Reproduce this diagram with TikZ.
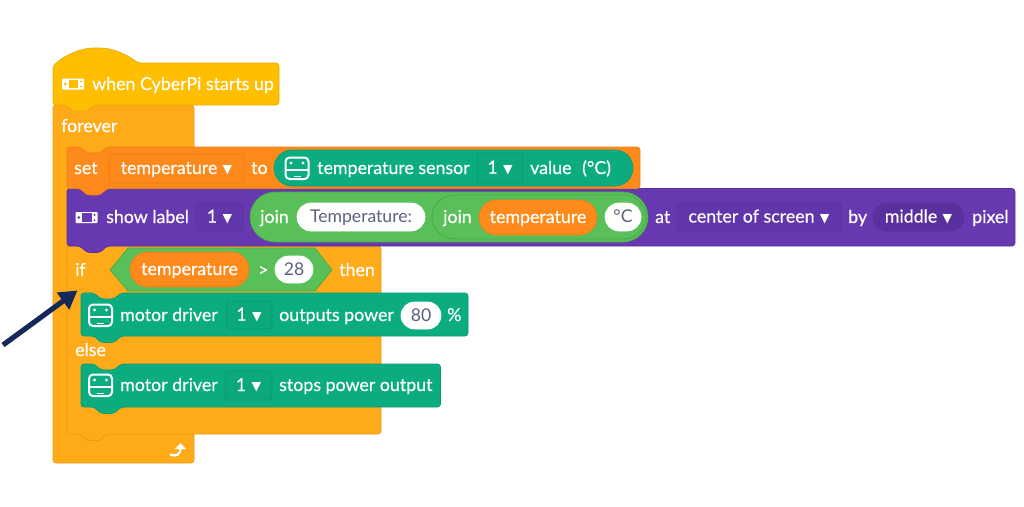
\documentclass[tikz,border=0pt]{standalone}
\usepackage{fontspec}
\setmainfont{Lato}
\newfontfamily\blockf[FakeBold=0.35]{Lato}
\newfontfamily\plainf{Lato}
\newfontfamily\symf{DejaVu Sans}
\usetikzlibrary{arrows.meta}
\definecolor{hatc}{HTML}{FFBF00}\definecolor{hate}{HTML}{E6AC00}
\definecolor{ctrl}{HTML}{FFAB19}\definecolor{ctrle}{HTML}{EB9A10}
\definecolor{var}{HTML}{FF8A1C}\definecolor{vare}{HTML}{EF7F17}\definecolor{vard}{HTML}{FD881B}
\definecolor{teal}{HTML}{0BAD80}\definecolor{teale}{HTML}{0A9A72}\definecolor{teald}{HTML}{0BA87C}
\definecolor{purp}{HTML}{6639B0}\definecolor{purpe}{HTML}{5A319F}\definecolor{purpd}{HTML}{6236AB}\definecolor{purpp}{HTML}{5A2F9E}
\definecolor{grn}{HTML}{59C059}\definecolor{grne}{HTML}{48A948}
\definecolor{wtxt}{HTML}{5C6080}\definecolor{navy}{HTML}{14285A}
\newcounter{lblc}
\tikzset{
  x=1pt,y=-1pt,
  lbl/.style={font=\blockf\fontsize{17.8}{19}\selectfont,text=white,inner sep=0pt,anchor=base west},
  lblc/.style={lbl,anchor=base},
  inwhite/.style={text=wtxt,font=\plainf\fontsize{17.6}{19}\selectfont},
  blk/.style={line width=.7pt,rounded corners=3pt,line join=round},
  fld/.style={line width=.7pt},
  bwhite/.style={fld,fill=white,draw=white},
  flda/.style={fld,fill=vard,draw=vare},
  fldt/.style={fld,fill=teald,draw=teale},
  fldp/.style={fld,fill=purpd,draw=purpe},
}
\newcommand{\dn}{\hspace{.3em}\raisebox{.3pt}{\symf\fontsize{12.5}{13}\selectfont ▼}}
% stack block: style, x1,y1,x2,y2
\newcommand{\stackb}[5]{%
  \pgfmathsetmacro{\na}{#2+13}\pgfmathsetmacro{\nb}{#2+20}\pgfmathsetmacro{\nc}{#2+33}\pgfmathsetmacro{\nd}{#2+40}%
  \pgfmathsetmacro{\yt}{#3+6}\pgfmathsetmacro{\yb}{#5+6.5}%
  \draw[blk,#1] (#2,#3) -- (\na,#3) -- (\nb,\yt) -- (\nc,\yt) -- (\nd,#3) -- (#4,#3) -- (#4,#5) -- (\nd,#5) -- (\nc,\yb) -- (\nb,\yb) -- (\na,#5) -- (#2,#5) -- cycle;}
% text label
\newcommand{\lb}[3]{\stepcounter{lblc}\node[lbl] (t\arabic{lblc}) at (#1,#2) {#3};}
% rounded field: style, x1,y1,x2,y2, radius, text style, text
\newcommand{\fb}[8]{\stepcounter{lblc}%
  \pgfmathsetmacro{\cx}{(#2+#4)/2}\pgfmathsetmacro{\cy}{(#3+#5)/2+5.5}%
  \draw[#1,rounded corners=#6pt] (#2,#3) rectangle (#4,#5);
  \node[lblc,#7] (t\arabic{lblc}) at (\cx,\cy) {#8};}
\newcommand{\icA}[3]{\begin{scope}[shift={(#1,#2)}]
  \fill[white,rounded corners=.8pt] (-11,-5.5) rectangle (11,5.5);
  \fill[#3] (-4.5,-4.3) rectangle (5,4.3);
  \fill[#3] (-7.7,0) circle (1.5) (8,-2.6) circle (1.1) (8,2.6) circle (1.1);
\end{scope}}
\newcommand{\icB}[2]{\begin{scope}[shift={(#1,#2)}]
  \draw[white,line width=2pt,rounded corners=4pt] (-11.5,-10.5) rectangle (11.5,11);
  \draw[white,line width=1.6pt] (-11.5,2) -- (11.5,2);
  \fill[white] (-6,-5) circle (1.6) (6,-5) circle (1.6);
  \fill[white] (-3.5,7.5) rectangle (3.5,9);
\end{scope}}
\begin{document}
\begin{tikzpicture}
\useasboundingbox (0,0) rectangle (1024,506);
\fill[white] (0,0) rectangle (1024,506);
% blocks, lowest first so each bump lies over the notch below it
\draw[blk,fill=ctrl,draw=ctrle] (53,105) -- (194,105) -- (194,463) -- (53,463) -- cycle;
\stackb{fill=ctrl,draw=ctrle}{67}{246}{381}{434}
\stackb{fill=teal,draw=teale}{81}{364}{440.5}{407}
\stackb{fill=teal,draw=teale}{81}{293}{468}{336}
\stackb{fill=purp,draw=purpe}{67}{188.5}{1015}{246}
\stackb{fill=var,draw=vare}{67}{147}{640}{188.5}
\draw[blk,fill=hatc,draw=hate] (53,105) -- (53,66) .. controls (66,54) and (82,48) .. (97,48) .. controls (112,48) and (126,54) .. (138,63) -- (279,63) -- (279,105) -- (94,105) -- (87,111) -- (73,111) -- (66,105) -- cycle;
% hat
\icA{73}{84}{hatc}
\lb{92}{90}{when CyberPi starts up}
% forever
\lb{61}{132}{forever}
% set
\lb{74}{174}{set}
\fb{flda}{109}{154}{244}{183}{3}{}{temperature\dn}
\lb{251}{174}{to}
\draw[fill=teal,draw=teale,line width=.7pt,rounded corners=18pt] (274,150) rectangle (633,186);
\icB{297}{168}
\lb{317}{174}{temperature sensor}
\fb{fldt}{477}{153}{523}{183}{3}{}{1\dn}
\lb{530}{174}{value}
\lb{582}{174}{(°C)}
% show label
\icA{86.5}{217.5}{purp}
\lb{106}{223}{show label}
\fb{fldp}{196}{203}{243}{231}{3}{}{1\dn}
\draw[fill=grn,draw=grne,line width=.7pt,rounded corners=25pt] (250,192) rectangle (648,242);
\lb{260}{223}{join}
\fb{bwhite}{297}{203}{425}{231}{14}{inwhite}{Temperature:}
\draw[fill=grn,draw=grne,line width=.8pt,rounded corners=22pt] (432,195) rectangle (646,239);
\lb{443}{223}{join}
\fb{fill=var,draw=vare,fld}{479}{200}{597}{235}{17.5}{}{temperature}
\fb{bwhite}{605}{203}{641}{231}{14}{inwhite}{°C}
\lb{655}{223}{at}
\fb{fldp}{677}{203}{841}{231}{3}{}{center of screen\dn}
\lb{848}{223}{by}
\fb{fill=purpp,draw=purpe,fld}{873}{203}{964}{231}{14}{}{middle\dn}
\lb{972}{223}{pixel}
% if
\lb{75}{276}{if}
\draw[fill=grn,draw=grne,line width=.7pt] (110,270) -- (128,248) -- (315,248) -- (332,270) -- (315,291) -- (128,291) -- cycle;
\fb{fill=var,draw=vare,fld}{130}{252}{249}{287}{17.5}{}{temperature}
\lb{258}{276}{>}
\fb{bwhite}{275}{256}{313}{283}{13.5}{inwhite}{28}
\lb{339}{276}{then}
% motor 1
\icB{100.5}{315}
\lb{120}{321}{motor driver}
\fb{fldt}{226}{301}{272}{329}{3}{}{1\dn}
\lb{279}{321}{outputs power}
\fb{bwhite}{401}{302}{441}{329}{13.5}{inwhite}{80}
\lb{447}{321}{\%}
% else
\lb{75}{356}{else}
% motor 2
\icB{100.5}{385}
\lb{120}{391}{motor driver}
\fb{fldt}{225}{371}{272}{400}{3}{}{1\dn}
\lb{279}{391}{stops power output}
% loop arrow
\draw[white,line width=2.3pt] (170,454.5) .. controls (176,457) and (180.5,455) .. (180.5,447.5);
\fill[white] (175,449) -- (180.5,443) -- (186,449) -- cycle;
% pointer
\coordinate (ptail) at (3,345);
\coordinate (ptip) at (77.5,290.5);
\draw[navy,line width=5.2pt,-{Triangle[length=18pt,width=20pt]}] (ptail) -- (ptip);
\end{tikzpicture}
\end{document}
